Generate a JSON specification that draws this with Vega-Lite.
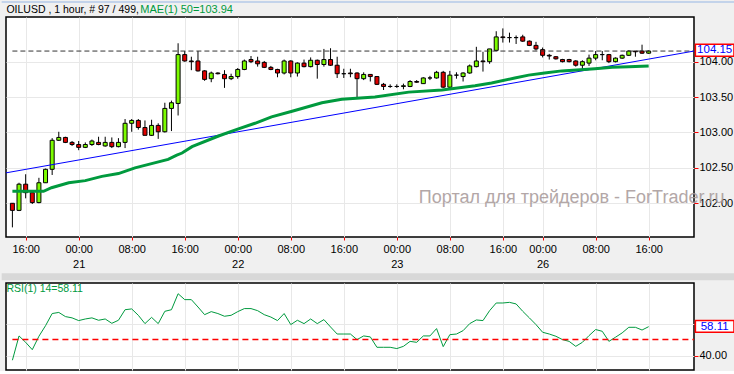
{
"$schema": "https://vega.github.io/schema/vega-lite/v6.json",
"background": "#f0f0f0",
"padding": 0,
"bounds": "flush",
"spacing": 46,
"datasets": {
"bars": [
{"i":0,"o":102.00,"h":102.00,"l":101.66,"c":101.90,"r":37.1},
{"i":1,"o":101.90,"h":102.29,"l":101.89,"c":102.27,"r":52.3},
{"i":2,"o":102.27,"h":102.41,"l":102.07,"c":102.15,"r":48.3},
{"i":3,"o":102.15,"h":102.15,"l":101.99,"c":102.01,"r":43.7},
{"i":4,"o":102.01,"h":102.36,"l":102.00,"c":102.29,"r":52.1},
{"i":5,"o":102.29,"h":102.49,"l":102.29,"c":102.48,"r":58.7},
{"i":6,"o":102.48,"h":102.92,"l":102.40,"c":102.89,"r":66.3},
{"i":7,"o":102.89,"h":103.01,"l":102.88,"c":102.93,"r":67.0},
{"i":8,"o":102.93,"h":102.94,"l":102.85,"c":102.86,"r":64.4},
{"i":9,"o":102.86,"h":102.88,"l":102.81,"c":102.83,"r":63.6},
{"i":10,"o":102.83,"h":102.88,"l":102.75,"c":102.79,"r":61.9},
{"i":11,"o":102.79,"h":102.86,"l":102.78,"c":102.83,"r":62.9},
{"i":12,"o":102.83,"h":102.90,"l":102.81,"c":102.88,"r":63.6},
{"i":13,"o":102.86,"h":102.94,"l":102.82,"c":102.83,"r":62.1},
{"i":14,"o":102.81,"h":102.94,"l":102.80,"c":102.86,"r":62.9},
{"i":15,"o":102.86,"h":102.93,"l":102.78,"c":102.80,"r":60.2},
{"i":16,"o":102.80,"h":102.92,"l":102.79,"c":102.86,"r":62.1},
{"i":17,"o":102.86,"h":103.19,"l":102.78,"c":103.13,"r":68.7},
{"i":18,"o":103.13,"h":103.19,"l":103.01,"c":103.17,"r":69.2},
{"i":19,"o":103.17,"h":103.19,"l":103.04,"c":103.07,"r":65.2},
{"i":20,"o":103.07,"h":103.17,"l":102.96,"c":102.96,"r":60.0},
{"i":21,"o":102.96,"h":103.18,"l":102.95,"c":103.10,"r":63.9},
{"i":22,"o":103.10,"h":103.13,"l":102.91,"c":103.01,"r":60.0},
{"i":23,"o":103.01,"h":103.42,"l":103.00,"c":103.34,"r":67.7},
{"i":24,"o":103.34,"h":103.45,"l":103.02,"c":103.42,"r":68.7},
{"i":25,"o":103.41,"h":104.26,"l":103.24,"c":104.10,"r":78.7},
{"i":26,"o":104.10,"h":104.15,"l":104.00,"c":104.01,"r":75.0},
{"i":27,"o":104.01,"h":104.07,"l":103.88,"c":104.00,"r":75.0},
{"i":28,"o":104.01,"h":104.15,"l":103.86,"c":103.87,"r":70.4},
{"i":29,"o":103.87,"h":103.88,"l":103.73,"c":103.75,"r":65.6},
{"i":30,"o":103.76,"h":103.86,"l":103.71,"c":103.84,"r":67.5},
{"i":31,"o":103.84,"h":103.85,"l":103.82,"c":103.83,"r":66.3},
{"i":32,"o":103.82,"h":103.88,"l":103.63,"c":103.76,"r":64.6},
{"i":33,"o":103.76,"h":103.83,"l":103.74,"c":103.79,"r":65.2},
{"i":34,"o":103.79,"h":103.91,"l":103.76,"c":103.89,"r":67.5},
{"i":35,"o":103.89,"h":104.03,"l":103.88,"c":104.01,"r":69.4},
{"i":36,"o":104.03,"h":104.08,"l":103.98,"c":104.00,"r":69.4},
{"i":37,"o":104.01,"h":104.07,"l":103.93,"c":103.97,"r":68.1},
{"i":38,"o":103.99,"h":104.01,"l":103.91,"c":103.92,"r":65.6},
{"i":39,"o":103.92,"h":103.94,"l":103.88,"c":103.89,"r":64.1},
{"i":40,"o":103.89,"h":103.90,"l":103.78,"c":103.84,"r":61.9},
{"i":41,"o":103.84,"h":104.03,"l":103.82,"c":104.01,"r":66.3},
{"i":42,"o":104.01,"h":104.02,"l":103.78,"c":103.84,"r":59.4},
{"i":43,"o":103.84,"h":103.99,"l":103.79,"c":103.98,"r":62.1},
{"i":44,"o":103.98,"h":104.03,"l":103.92,"c":103.93,"r":60.0},
{"i":45,"o":103.93,"h":104.06,"l":103.92,"c":104.02,"r":62.9},
{"i":46,"o":104.02,"h":104.03,"l":103.76,"c":103.96,"r":60.0},
{"i":47,"o":103.96,"h":104.18,"l":103.93,"c":104.03,"r":62.5},
{"i":48,"o":104.03,"h":104.19,"l":103.94,"c":103.95,"r":57.9},
{"i":49,"o":103.95,"h":104.07,"l":103.77,"c":103.83,"r":53.5},
{"i":50,"o":103.83,"h":103.90,"l":103.77,"c":103.83,"r":53.5},
{"i":51,"o":103.84,"h":103.90,"l":103.78,"c":103.83,"r":53.5},
{"i":52,"o":103.84,"h":103.85,"l":103.50,"c":103.76,"r":50.0},
{"i":53,"o":103.76,"h":103.85,"l":103.74,"c":103.82,"r":52.3},
{"i":54,"o":103.82,"h":103.82,"l":103.72,"c":103.79,"r":51.7},
{"i":55,"o":103.79,"h":103.79,"l":103.67,"c":103.68,"r":45.2},
{"i":56,"o":103.68,"h":103.70,"l":103.60,"c":103.65,"r":45.2},
{"i":57,"o":103.65,"h":103.68,"l":103.63,"c":103.65,"r":45.2},
{"i":58,"o":103.65,"h":103.68,"l":103.63,"c":103.65,"r":44.4},
{"i":59,"o":103.65,"h":103.69,"l":103.61,"c":103.66,"r":45.8},
{"i":60,"o":103.65,"h":103.74,"l":103.64,"c":103.72,"r":48.9},
{"i":61,"o":103.72,"h":103.74,"l":103.70,"c":103.71,"r":48.3},
{"i":62,"o":103.69,"h":103.78,"l":103.69,"c":103.77,"r":52.3},
{"i":63,"o":103.77,"h":103.80,"l":103.74,"c":103.77,"r":52.3},
{"i":64,"o":103.77,"h":103.87,"l":103.76,"c":103.85,"r":56.9},
{"i":65,"o":103.85,"h":103.87,"l":103.63,"c":103.64,"r":45.6},
{"i":66,"o":103.64,"h":103.87,"l":103.61,"c":103.81,"r":53.1},
{"i":67,"o":103.81,"h":103.85,"l":103.76,"c":103.81,"r":53.5},
{"i":68,"o":103.79,"h":103.85,"l":103.72,"c":103.84,"r":55.6},
{"i":69,"o":103.84,"h":103.96,"l":103.83,"c":103.94,"r":60.0},
{"i":70,"o":103.93,"h":104.21,"l":103.92,"c":104.01,"r":62.3},
{"i":71,"o":104.01,"h":104.14,"l":103.86,"c":104.00,"r":61.9},
{"i":72,"o":104.00,"h":104.18,"l":103.97,"c":104.18,"r":68.1},
{"i":73,"o":104.16,"h":104.43,"l":104.15,"c":104.35,"r":72.9},
{"i":74,"o":104.35,"h":104.47,"l":104.27,"c":104.34,"r":72.9},
{"i":75,"o":104.34,"h":104.41,"l":104.27,"c":104.34,"r":73.3},
{"i":76,"o":104.34,"h":104.37,"l":104.25,"c":104.34,"r":72.3},
{"i":77,"o":104.35,"h":104.38,"l":104.28,"c":104.29,"r":67.7},
{"i":78,"o":104.29,"h":104.30,"l":104.22,"c":104.23,"r":63.6},
{"i":79,"o":104.23,"h":104.28,"l":104.16,"c":104.18,"r":59.4},
{"i":80,"o":104.17,"h":104.20,"l":104.06,"c":104.09,"r":54.6},
{"i":81,"o":104.09,"h":104.11,"l":104.03,"c":104.08,"r":53.5},
{"i":82,"o":104.07,"h":104.08,"l":104.03,"c":104.04,"r":52.1},
{"i":83,"o":104.03,"h":104.04,"l":103.99,"c":104.00,"r":50.0},
{"i":84,"o":104.03,"h":104.04,"l":103.99,"c":104.00,"r":48.9},
{"i":85,"o":104.01,"h":104.02,"l":103.93,"c":103.95,"r":45.8},
{"i":86,"o":103.95,"h":104.02,"l":103.88,"c":104.00,"r":48.3},
{"i":87,"o":103.98,"h":104.10,"l":103.94,"c":104.05,"r":52.5},
{"i":88,"o":104.05,"h":104.15,"l":104.02,"c":104.10,"r":56.3},
{"i":89,"o":104.10,"h":104.15,"l":104.02,"c":104.10,"r":55.2},
{"i":90,"o":104.10,"h":104.11,"l":103.98,"c":104.00,"r":48.9},
{"i":91,"o":104.00,"h":104.06,"l":103.99,"c":104.05,"r":51.5},
{"i":92,"o":104.05,"h":104.10,"l":104.04,"c":104.09,"r":54.2},
{"i":93,"o":104.09,"h":104.16,"l":104.08,"c":104.15,"r":57.7},
{"i":94,"o":104.15,"h":104.15,"l":104.07,"c":104.14,"r":57.7},
{"i":95,"o":104.15,"h":104.24,"l":104.11,"c":104.12,"r":56.0},
{"i":96,"o":104.12,"h":104.16,"l":104.11,"c":104.15,"r":58.1}
],
"ma": [
{"i":0,"p":102.17},{"i":4.7,"p":102.17},{"i":5.9,"p":102.22},{"i":8.5,"p":102.29},{"i":11.0,"p":102.32},{"i":13.5,"p":102.38},{"i":16.0,"p":102.42},{"i":18.5,"p":102.50},{"i":21.0,"p":102.56},{"i":23.5,"p":102.62},{"i":24.8,"p":102.68},{"i":25.6,"p":102.71},{"i":27.1,"p":102.80},{"i":31.1,"p":102.95},{"i":34.1,"p":103.05},{"i":36.6,"p":103.13},{"i":39.1,"p":103.22},{"i":42.2,"p":103.30},{"i":46.7,"p":103.42},{"i":49.7,"p":103.47},{"i":54.7,"p":103.50},{"i":59.8,"p":103.57},{"i":64.8,"p":103.60},{"i":69.8,"p":103.66},{"i":72.3,"p":103.70},{"i":75.8,"p":103.77},{"i":77.9,"p":103.81},{"i":80.3,"p":103.84},{"i":82.9,"p":103.87},{"i":87.9,"p":103.90},{"i":90.5,"p":103.92},{"i":93.0,"p":103.93},{"i":96,"p":103.94}
],
"trend": [{"i":-0.966,"p":102.43},{"i":102.84,"p":104.15}]
},
"vconcat": [
{
"width": 688, "height": 220,
"data": {"name": "bars"},
"layer": [
{"data": {"values": [{}]}, "mark": {"type": "rect", "fill": "#c3d3ea"},
 "encoding": {"x": {"datum": -1.615, "scale": {"domain": [-0.966, 102.84], "nice": false, "zero": false, "padding": 0}}, "x2": {"datum": 109.2},
  "y": {"datum": 104.857, "scale": {"domain": [101.524, 104.631], "nice": false, "zero": false}}, "y2": {"datum": 104.829}}},
{"mark": {"type": "rule", "color": "black", "strokeWidth": 1},
 "encoding": {
  "x": {"field": "i", "type": "quantitative", "title": null, "scale": {"domain": [-0.966, 102.84], "nice": false, "zero": false, "padding": 0},
   "axis": {"values": [2,10,18,26,34,42,50,58,66,74,80,88,96], "labelExpr": "datum.value == 10 ? ['00:00','21'] : datum.value == 34 ? ['00:00','22'] : datum.value == 58 ? ['00:00','23'] : datum.value == 80 ? ['00:00','26'] : (datum.value == 2 || datum.value == 26 || datum.value == 50 || datum.value == 74 || datum.value == 96) ? '16:00' : '08:00'",
    "grid": true, "gridColor": "#e8e8e8", "domain": false, "tickColor": "#ff0000", "tickSize": 3, "labelPadding": 3, "labelFontSize": 11, "labelColor": "black", "labelBaseline": "top", "labelLineHeight": 15, "labelFlush": false, "labelOverlap": false, "labelBound": false}},
  "y": {"field": "l", "type": "quantitative", "title": null, "scale": {"domain": [101.524, 104.631], "nice": false, "zero": false},
   "axis": {"orient": "right", "values": [102, 102.5, 103, 103.5, 104], "format": ".2f", "grid": true, "gridColor": "#e8e8e8", "domain": false, "tickColor": "#ff0000", "tickSize": 4, "labelPadding": 1, "labelFontSize": 11, "labelColor": "black", "labelFlush": false, "labelOverlap": false}},
  "y2": {"field": "h"}}},
{"mark": {"type": "bar", "width": 4, "stroke": "black", "strokeWidth": 1},
 "encoding": {
  "x": {"field": "i", "type": "quantitative", "title": null, "scale": {"domain": [-0.966, 102.84], "nice": false, "zero": false, "padding": 0}},
  "y": {"field": "o", "type": "quantitative", "title": null, "scale": {"domain": [101.524, 104.631], "nice": false, "zero": false}},
  "y2": {"field": "c"},
  "fill": {"condition": {"test": "datum.c >= datum.o", "value": "#7cfc00"}, "value": "#e00000"}}},
{"data": {"values": [{}]}, "mark": {"type": "rule", "color": "#333333", "strokeDash": [5, 3], "strokeWidth": 1},
 "encoding": {"x": {"datum": 0, "scale": {"domain": [-0.966, 102.84], "nice": false, "zero": false, "padding": 0}}, "x2": {"datum": 102.84},
  "y": {"datum": 104.15, "scale": {"domain": [101.524, 104.631], "nice": false, "zero": false}}}},
{"data": {"name": "trend"}, "mark": {"type": "line", "color": "#0000ff", "strokeWidth": 1},
 "encoding": {"x": {"field": "i", "type": "quantitative", "title": null, "scale": {"domain": [-0.966, 102.84], "nice": false, "zero": false, "padding": 0}},
  "y": {"field": "p", "type": "quantitative", "title": null, "scale": {"domain": [101.524, 104.631], "nice": false, "zero": false}}}},
{"data": {"name": "ma"}, "mark": {"type": "line", "color": "#009a3e", "strokeWidth": 3},
 "encoding": {"x": {"field": "i", "type": "quantitative", "title": null, "scale": {"domain": [-0.966, 102.84], "nice": false, "zero": false, "padding": 0}},
  "y": {"field": "p", "type": "quantitative", "title": null, "scale": {"domain": [101.524, 104.631], "nice": false, "zero": false}}}},
{"data": {"values": [{}]}, "mark": {"type": "text", "text": "Портал для трейдеров - ForTrader.ru", "font": "Liberation Sans", "fontSize": 18, "color": "#a69898", "opacity": 0.85, "align": "center", "baseline": "middle"},
 "encoding": {"x": {"datum": 84.38, "scale": {"domain": [-0.966, 102.84], "nice": false, "zero": false, "padding": 0}}, "y": {"datum": 102.079, "scale": {"domain": [101.524, 104.631], "nice": false, "zero": false}}}},
{"data": {"values": [{}]}, "mark": {"type": "text", "text": "OILUSD , 1 hour, # 97 / 499,", "font": "Liberation Sans", "fontSize": 10.5, "color": "black", "align": "left", "baseline": "middle"},
 "encoding": {"x": {"datum": -0.906, "scale": {"domain": [-0.966, 102.84], "nice": false, "zero": false, "padding": 0}}, "y": {"datum": 104.73, "scale": {"domain": [101.524, 104.631], "nice": false, "zero": false}}}},
{"data": {"values": [{}]}, "mark": {"type": "text", "text": "MAE(1) 50=103.94", "font": "Liberation Sans", "fontSize": 11, "color": "#009a3e", "align": "left", "baseline": "middle"},
 "encoding": {"x": {"datum": 19.3, "scale": {"domain": [-0.966, 102.84], "nice": false, "zero": false, "padding": 0}}, "y": {"datum": 104.73, "scale": {"domain": [101.524, 104.631], "nice": false, "zero": false}}}},
{"data": {"values": [{}]}, "mark": {"type": "rect", "fill": "white", "stroke": "#ff0000", "strokeWidth": 1.5},
 "encoding": {"x": {"datum": 103.05, "scale": {"domain": [-0.966, 102.84], "nice": false, "zero": false, "padding": 0}}, "x2": {"datum": 108.87},
  "y": {"datum": 104.245, "scale": {"domain": [101.524, 104.631], "nice": false, "zero": false}}, "y2": {"datum": 104.076}}},
{"data": {"values": [{}]}, "mark": {"type": "text", "text": "104.15", "font": "Liberation Sans", "fontSize": 11.5, "color": "#0000ff", "align": "center", "baseline": "middle"},
 "encoding": {"x": {"datum": 105.96, "scale": {"domain": [-0.966, 102.84], "nice": false, "zero": false, "padding": 0}}, "y": {"datum": 104.16, "scale": {"domain": [101.524, 104.631], "nice": false, "zero": false}}}}
]
},
{
"width": 688, "height": 87,
"data": {"name": "bars"},
"layer": [
{"data": {"values": [{}]}, "mark": {"type": "rect", "fill": "#d8d8d8"},
 "encoding": {"x": {"datum": -1.615, "scale": {"domain": [-0.966, 102.84], "nice": false, "zero": false, "padding": 0}}, "x2": {"datum": 109.2},
  "y": {"datum": 91.47, "scale": {"domain": [31.0, 85.4], "nice": false, "zero": false}}, "y2": {"datum": 87.09}}},
{"mark": {"type": "line", "color": "#009a3e", "strokeWidth": 1},
 "encoding": {
  "x": {"field": "i", "type": "quantitative", "title": null, "scale": {"domain": [-0.966, 102.84], "nice": false, "zero": false, "padding": 0},
   "axis": {"values": [2,10,18,26,34,42,50,58,66,74,80,88,96], "grid": true, "gridColor": "#e8e8e8", "labels": false, "ticks": false, "domain": false}},
  "y": {"field": "r", "type": "quantitative", "title": null, "scale": {"domain": [31.0, 85.4], "nice": false, "zero": false},
   "axis": {"orient": "right", "values": [40, 60], "labelExpr": "datum.value == 40 ? '40.00' : ''", "grid": true, "gridColor": "#e8e8e8", "domain": false, "tickColor": "#ff0000", "tickSize": 4, "labelPadding": 1, "labelFontSize": 11, "labelColor": "black", "labelFlush": false, "labelOverlap": false}}}},
{"data": {"values": [{}]}, "mark": {"type": "rule", "color": "#ff0000", "strokeDash": [6, 4], "strokeWidth": 1.5},
 "encoding": {"x": {"datum": 0, "scale": {"domain": [-0.966, 102.84], "nice": false, "zero": false, "padding": 0}}, "x2": {"datum": 102.84},
  "y": {"datum": 50, "scale": {"domain": [31.0, 85.4], "nice": false, "zero": false}}}},
{"data": {"values": [{}]}, "mark": {"type": "text", "text": "RSI(1) 14=58.11", "font": "Liberation Sans", "fontSize": 10.5, "color": "#009a3e", "align": "left", "baseline": "middle"},
 "encoding": {"x": {"datum": -0.906, "scale": {"domain": [-0.966, 102.84], "nice": false, "zero": false, "padding": 0}}, "y": {"datum": 81.9, "scale": {"domain": [31.0, 85.4], "nice": false, "zero": false}}}},
{"data": {"values": [{}]}, "mark": {"type": "rect", "fill": "white", "stroke": "#ff0000", "strokeWidth": 1.5},
 "encoding": {"x": {"datum": 103.05, "scale": {"domain": [-0.966, 102.84], "nice": false, "zero": false, "padding": 0}}, "x2": {"datum": 108.87},
  "y": {"datum": 61.89, "scale": {"domain": [31.0, 85.4], "nice": false, "zero": false}}, "y2": {"datum": 54.57}}},
{"data": {"values": [{}]}, "mark": {"type": "text", "text": "58.11", "font": "Liberation Sans", "fontSize": 11.5, "color": "#0000ff", "align": "center", "baseline": "middle"},
 "encoding": {"x": {"datum": 105.96, "scale": {"domain": [-0.966, 102.84], "nice": false, "zero": false, "padding": 0}}, "y": {"datum": 58.0, "scale": {"domain": [31.0, 85.4], "nice": false, "zero": false}}}}
]
}
],
"config": {
"view": {"fill": "white", "stroke": "black", "strokeWidth": 1.5},
"axis": {"labelFont": "Liberation Sans"},
"text": {"font": "Liberation Sans"}
}
}
